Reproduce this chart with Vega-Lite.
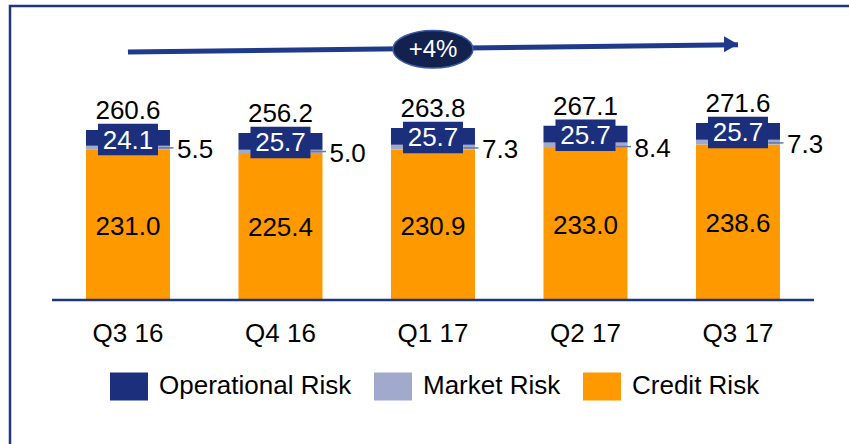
{
  "$schema": "https://vega.github.io/schema/vega-lite/v6.json",
  "width": 839,
  "height": 438,
  "autosize": {"type": "none"},
  "padding": {"left": 10, "top": 6, "right": 0, "bottom": 0},
  "background": "white",
  "config": {
    "font": "Liberation Sans",
    "view": {"stroke": "#1f3581", "strokeWidth": 2.5, "strokeDash": [839, 1277, 438]}
  },
  "datasets": {
    "seg": [
      {"q": "Q3 16", "risk": "Credit Risk", "value": 231.0, "ord": 1},
      {"q": "Q3 16", "risk": "Market Risk", "value": 5.5, "ord": 2},
      {"q": "Q3 16", "risk": "Operational Risk", "value": 24.1, "ord": 3},
      {"q": "Q4 16", "risk": "Credit Risk", "value": 225.4, "ord": 1},
      {"q": "Q4 16", "risk": "Market Risk", "value": 5.0, "ord": 2},
      {"q": "Q4 16", "risk": "Operational Risk", "value": 25.7, "ord": 3},
      {"q": "Q1 17", "risk": "Credit Risk", "value": 230.9, "ord": 1},
      {"q": "Q1 17", "risk": "Market Risk", "value": 7.3, "ord": 2},
      {"q": "Q1 17", "risk": "Operational Risk", "value": 25.7, "ord": 3},
      {"q": "Q2 17", "risk": "Credit Risk", "value": 233.0, "ord": 1},
      {"q": "Q2 17", "risk": "Market Risk", "value": 8.4, "ord": 2},
      {"q": "Q2 17", "risk": "Operational Risk", "value": 25.7, "ord": 3},
      {"q": "Q3 17", "risk": "Credit Risk", "value": 238.6, "ord": 1},
      {"q": "Q3 17", "risk": "Market Risk", "value": 7.3, "ord": 2},
      {"q": "Q3 17", "risk": "Operational Risk", "value": 25.7, "ord": 3}
    ],
    "tot": [
      {"q": "Q3 16", "credit": 231.0, "market": 5.5, "op": 24.1, "total": 260.6},
      {"q": "Q4 16", "credit": 225.4, "market": 5.0, "op": 25.7, "total": 256.2},
      {"q": "Q1 17", "credit": 230.9, "market": 7.3, "op": 25.7, "total": 263.8},
      {"q": "Q2 17", "credit": 233.0, "market": 8.4, "op": 25.7, "total": 267.1},
      {"q": "Q3 17", "credit": 238.6, "market": 7.3, "op": 25.7, "total": 271.6}
    ]
  },
  "layer": [
    {
      "data": {"name": "seg"},
      "mark": {"type": "bar", "strokeWidth": 0},
      "encoding": {
        "x": {
          "field": "q", "type": "nominal", "sort": null, "axis": null,
          "scale": {
            "domain": ["Q3 16", "Q4 16", "Q1 17", "Q2 17", "Q3 17"],
            "paddingInner": 0.4492, "paddingOuter": 0.4754, "align": 0.524
          }
        },
        "y": {
          "field": "value", "type": "quantitative", "stack": "zero", "axis": null,
          "scale": {"domain": [-220.9, 450.9], "nice": false, "zero": false}
        },
        "color": {
          "field": "risk", "type": "nominal",
          "scale": {
            "domain": ["Operational Risk", "Market Risk", "Credit Risk"],
            "range": ["#1b2f7c", "#a1a9cd", "#ff9900"]
          },
          "legend": {
            "orient": "none", "legendX": 100, "legendY": 361, "direction": "horizontal",
            "title": null, "symbolType": "M-1,-0.737H1V0.737H-1Z", "symbolSize": 1444,
            "symbolStrokeWidth": 0, "symbolOpacity": 1,
            "labelFontSize": 26, "labelOffset": 11, "columnPadding": 22,
            "labelColor": "#000000", "labelFont": "Liberation Sans", "labelLimit": 400
          }
        },
        "order": {"field": "ord", "type": "quantitative"}
      }
    },
    {
      "data": {"name": "tot"},
      "mark": {"type": "tick", "xOffset": 38, "yOffset": -1.5, "size": 15, "thickness": 1.5, "color": "#6677aa", "opacity": 1},
      "encoding": {
        "x": {"field": "q", "type": "nominal", "sort": null},
        "y": {"field": "credit", "type": "quantitative"}
      }
    },
    {
      "data": {"name": "tot"},
      "mark": {"type": "point", "shape": "M-1,-0.525H1V0.525H-1Z", "size": 3600, "filled": true, "color": "#1b2f7c", "opacity": 1, "yOffset": 9.5},
      "encoding": {
        "x": {"field": "q", "type": "nominal", "sort": null},
        "y": {"field": "total", "type": "quantitative"}
      }
    },
    {
      "data": {"name": "tot"},
      "mark": {"type": "text", "color": "#ffffff", "fontSize": 26, "baseline": "alphabetic", "dy": 18.5},
      "encoding": {
        "x": {"field": "q", "type": "nominal", "sort": null},
        "y": {"field": "total", "type": "quantitative"},
        "text": {"field": "op", "type": "quantitative", "format": ".1f"}
      }
    },
    {
      "data": {"name": "tot"},
      "mark": {"type": "text", "color": "#000000", "fontSize": 26, "baseline": "alphabetic", "dy": -11},
      "encoding": {
        "x": {"field": "q", "type": "nominal", "sort": null},
        "y": {"field": "total", "type": "quantitative"},
        "text": {"field": "total", "type": "quantitative", "format": ".1f"}
      }
    },
    {
      "data": {"name": "tot"},
      "mark": {"type": "text", "color": "#000000", "fontSize": 26, "baseline": "middle", "align": "left", "dx": 49, "dy": 0.5},
      "encoding": {
        "x": {"field": "q", "type": "nominal", "sort": null},
        "y": {"field": "credit", "type": "quantitative"},
        "text": {"field": "market", "type": "quantitative", "format": ".1f"}
      }
    },
    {
      "data": {"name": "seg"},
      "transform": [{"filter": {"field": "risk", "equal": "Credit Risk"}}],
      "mark": {"type": "text", "color": "#000000", "fontSize": 26, "baseline": "middle", "dy": 2},
      "encoding": {
        "x": {"field": "q", "type": "nominal", "sort": null},
        "y": {"field": "value", "type": "quantitative", "stack": "zero", "bandPosition": 0.5},
        "text": {"field": "value", "type": "quantitative", "format": ".1f"}
      }
    },
    {
      "data": {"name": "tot"},
      "mark": {"type": "text", "color": "#000000", "fontSize": 26, "baseline": "alphabetic", "dy": 42},
      "encoding": {
        "x": {"field": "q", "type": "nominal", "sort": null},
        "y": {"datum": 0, "type": "quantitative"},
        "text": {"field": "q", "type": "nominal"}
      }
    },
    {
      "data": {"values": [{}]},
      "mark": {"type": "rule", "color": "#1f3581", "strokeWidth": 2.5, "xOffset": -76, "x2Offset": 76},
      "encoding": {
        "x": {"datum": "Q3 16", "type": "nominal"},
        "x2": {"datum": "Q3 17"},
        "y": {"datum": 0, "type": "quantitative"}
      }
    },
    {
      "data": {"values": [{}]},
      "mark": {"type": "rule", "color": "#1f3a8a", "strokeWidth": 5},
      "encoding": {
        "x": {"datum": "Q3 16", "type": "nominal"},
        "x2": {"datum": "Q3 17"},
        "y": {"datum": 380.4, "type": "quantitative"},
        "y2": {"datum": 391.5}
      }
    },
    {
      "data": {"values": [{}]},
      "mark": {"type": "point", "shape": "triangle-right", "size": 256, "filled": true, "color": "#1f3a8a", "opacity": 1, "xOffset": -7},
      "encoding": {
        "x": {"datum": "Q3 17", "type": "nominal"},
        "y": {"datum": 392.2, "type": "quantitative"}
      }
    },
    {
      "data": {"values": [{}]},
      "mark": {"type": "point", "shape": "M1,0C1,0.26,0.552,0.47,0,0.47C-0.552,0.47,-1,0.26,-1,0C-1,-0.26,-0.552,-0.47,0,-0.47C0.552,-0.47,1,-0.26,1,0Z", "size": 6400, "filled": true, "fill": "#13214f", "stroke": "#3d5ca6", "strokeWidth": 1.5, "opacity": 1},
      "encoding": {
        "x": {"datum": "Q1 17", "type": "nominal"},
        "y": {"datum": 384.5, "type": "quantitative"}
      }
    },
    {
      "data": {"values": [{}]},
      "mark": {"type": "text", "color": "#ffffff", "fontSize": 24, "baseline": "middle", "dy": 1},
      "encoding": {
        "x": {"datum": "Q1 17", "type": "nominal"},
        "y": {"datum": 384.5, "type": "quantitative"},
        "text": {"value": "+4%"}
      }
    }
  ]
}
